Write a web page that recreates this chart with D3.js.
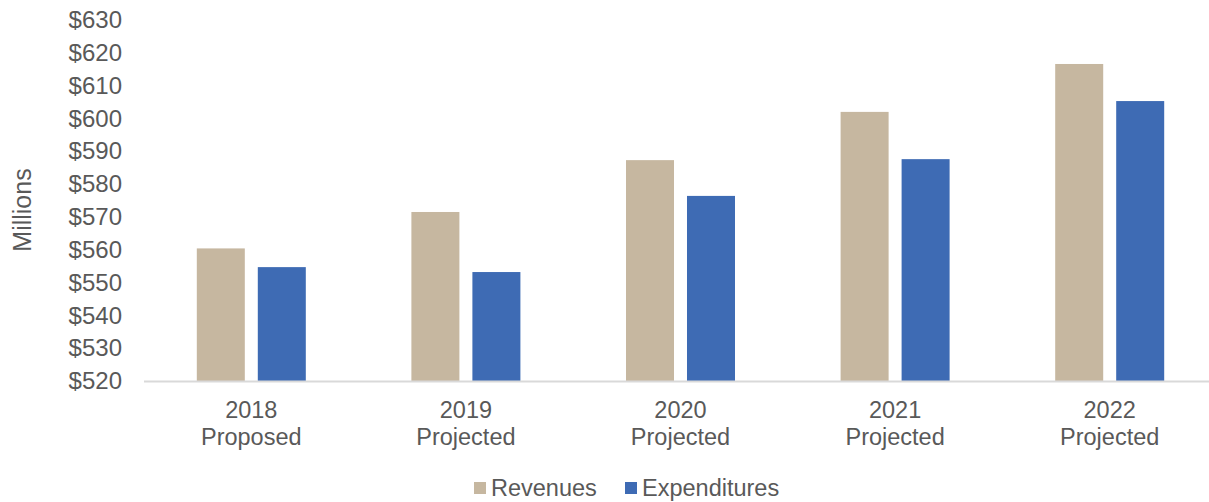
<!DOCTYPE html>
<html>
  <head>
    <script src="https://d3js.org/d3.v7.min.js"></script>
  </head>
  <body style="margin:0">
    <svg class="chart" width="1209" height="502"></svg>
    <script>
// Data
var years = ["2018", "2019", "2020", "2021", "2022"];
var kinds = ["Proposed", "Projected", "Projected", "Projected", "Projected"];
var seriesNames = ["Revenues", "Expenditures"];
var revenues = [560.4, 571.5, 587.3, 602.0, 616.6];
var expenditures = [554.7, 553.2, 576.4, 587.6, 605.3];
var yTicks = [520, 530, 540, 550, 560, 570, 580, 590, 600, 610, 620, 630];

var colors = { Revenues: "#c6b7a0", Expenditures: "#3e6bb4" };

var svg = d3.select("svg"),
    width = +svg.attr("width"),
    height = +svg.attr("height");

var margin = { left: 144, right: -8, top: 20, bottom: 121 };
var plotBottom = height - margin.bottom;

var rows = years.map(function (y, i) {
  return { year: y, kind: kinds[i], Revenues: revenues[i], Expenditures: expenditures[i] };
});

// Scales
var x0 = d3.scaleBand()
    .domain(years)
    .range([margin.left, width - margin.right]);
var groupW = 109;
var x1 = d3.scaleBand()
    .domain(seriesNames)
    .range([(x0.bandwidth() - groupW) / 2, (x0.bandwidth() + groupW) / 2])
    .paddingInner(0.213);
var y = d3.scaleLinear()
    .domain([520, 630])
    .range([plotBottom, margin.top]);

var font = "Liberation Sans, Arial, sans-serif";
var textColor = "#595959";

// Y axis labels (no line)
var yAxis = svg.append("g")
    .attr("transform", "translate(" + (margin.left - 22) + ",0)")
    .call(d3.axisLeft(y).tickValues(yTicks).tickSize(0).tickPadding(0)
      .tickFormat(function (d) { return "$" + d; }));
yAxis.select(".domain").remove();
yAxis.selectAll("text")
    .attr("fill", textColor)
    .style("font-family", font)
    .style("font-size", "24px");

// Axis title
svg.append("text")
    .attr("transform", "translate(31," + 210 + ") rotate(-90)")
    .attr("text-anchor", "middle")
    .attr("fill", textColor)
    .style("font-family", font)
    .style("font-size", "25px")
    .text("Millions");

// Bars
svg.append("g")
  .selectAll("g")
  .data(rows)
  .enter().append("g")
    .attr("transform", function (d) { return "translate(" + x0(d.year) + ",0)"; })
  .selectAll("rect")
  .data(function (d) { return seriesNames.map(function (k) { return { key: k, value: d[k] }; }); })
  .enter().append("rect")
    .attr("x", function (d) { return x1(d.key); })
    .attr("width", x1.bandwidth())
    .attr("y", function (d) { return y(d.value); })
    .attr("height", function (d) { return plotBottom - y(d.value); })
    .attr("fill", function (d) { return colors[d.key]; });

// X axis line
svg.append("line")
    .attr("x1", margin.left)
    .attr("x2", width)
    .attr("y1", plotBottom + 0.5)
    .attr("y2", plotBottom + 0.5)
    .attr("stroke", "#d9d9d9")
    .attr("stroke-width", 2);

// X labels
var xl = svg.append("g").selectAll("text")
  .data(rows)
  .enter().append("text")
    .attr("x", function (d) { return x0(d.year) + x0.bandwidth() / 2; })
    .attr("text-anchor", "middle")
    .attr("fill", textColor)
    .style("font-family", font)
    .style("font-size", "23.5px");
xl.append("tspan").attr("y", 418).text(function (d) { return d.year; });
xl.append("tspan")
    .attr("x", function (d) { return x0(d.year) + x0.bandwidth() / 2; })
    .attr("y", 445).text(function (d) { return d.kind; });

// Legend
var legend = svg.append("g").attr("transform", "translate(474,0)");
var legendX = [0, 151];
var items = legend.selectAll("g")
  .data(seriesNames)
  .enter().append("g")
    .attr("transform", function (d, i) { return "translate(" + legendX[i] + ",0)"; });
items.append("rect")
    .attr("y", 482)
    .attr("width", 12)
    .attr("height", 12)
    .attr("fill", function (d) { return colors[d]; });
items.append("text")
    .attr("x", 17)
    .attr("y", 496)
    .attr("fill", textColor)
    .style("font-family", font)
    .style("font-size", "23.5px")
    .text(function (d) { return d; });
</script>
  </body>
</html>
